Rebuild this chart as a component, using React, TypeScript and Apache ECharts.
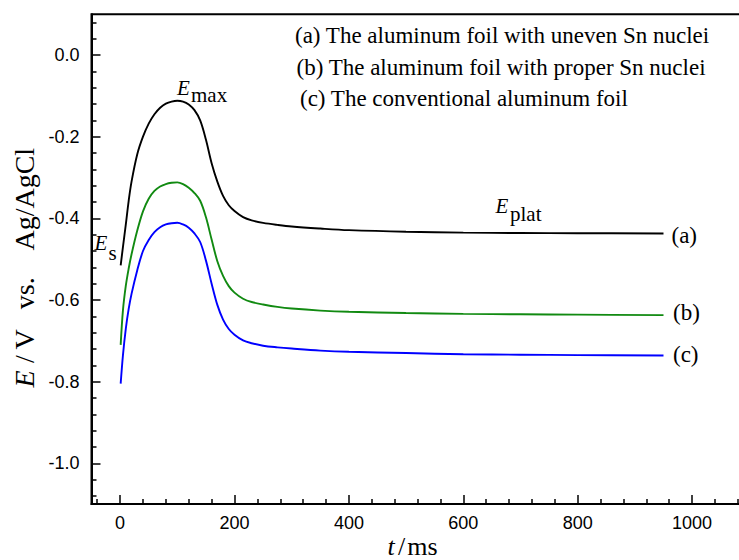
import React, { useEffect, useRef } from "react";
import * as echarts from "echarts";

// Sampling times (ms) shared by the three chronopotentiometric curves
const timeMs = [1, 5, 10, 15, 20, 30, 40, 50, 60, 70, 80, 90, 100, 110, 120, 130, 140, 150, 160, 170, 180, 190, 200, 215, 230, 250, 275, 300, 350, 400, 500, 600, 700, 800, 950];

// (a) aluminum foil with uneven Sn nuclei
const seriesA = [-0.515, -0.47, -0.415, -0.357, -0.31, -0.243, -0.2, -0.168, -0.145, -0.129, -0.119, -0.114, -0.112, -0.114, -0.121, -0.135, -0.16, -0.207, -0.265, -0.31, -0.345, -0.368, -0.382, -0.397, -0.405, -0.411, -0.416, -0.42, -0.425, -0.429, -0.433, -0.435, -0.436, -0.4365, -0.437];
// (b) aluminum foil with proper Sn nuclei
const seriesB = [-0.71, -0.625, -0.565, -0.523, -0.488, -0.43, -0.383, -0.352, -0.333, -0.322, -0.316, -0.313, -0.312, -0.316, -0.325, -0.338, -0.357, -0.397, -0.452, -0.505, -0.541, -0.566, -0.582, -0.597, -0.605, -0.611, -0.617, -0.621, -0.626, -0.629, -0.632, -0.634, -0.635, -0.636, -0.637];
// (c) conventional aluminum foil
const seriesC = [-0.805, -0.735, -0.67, -0.622, -0.585, -0.527, -0.48, -0.453, -0.434, -0.422, -0.415, -0.412, -0.411, -0.415, -0.423, -0.437, -0.458, -0.503, -0.56, -0.612, -0.648, -0.671, -0.685, -0.699, -0.706, -0.712, -0.716, -0.719, -0.724, -0.727, -0.73, -0.733, -0.734, -0.735, -0.736];

const legendLines = [
  "(a) The aluminum foil with uneven Sn nuclei",
  "(b) The aluminum foil with proper Sn nuclei",
  "(c) The conventional aluminum foil",
];
const curveTags = ["(a)", "(b)", "(c)"];

const xMajor = [0, 200, 400, 600, 800, 1000];
const yMajor = [-1.0, -0.8, -0.6, -0.4, -0.2, 0.0];

const X_MIN = -50;
const X_MAX = 1100;
const Y_MIN = -1.1;
const Y_MAX = 0.1;

function minorTicks(major: number[], step: number, lo: number, hi: number): number[] {
  const out: number[] = [];
  const first = Math.ceil((lo + 1e-9) / step);
  const last = Math.floor((hi - 1e-9) / step);
  for (let k = first; k <= last; k++) {
    const v = Math.round(k * step * 1000) / 1000;
    if (!major.some((m) => Math.abs(m - v) < 1e-6)) out.push(v);
  }
  return out;
}

const SERIF = "'Liberation Serif', 'Times New Roman', serif";
const SANS = "'Liberation Sans', Arial, sans-serif";

export default function App() {
  const ref = useRef<HTMLDivElement>(null);

  useEffect(() => {
    if (!ref.current) return;
    const chart = echarts.init(ref.current, undefined, { renderer: "svg" });

    const xMinor = minorTicks(xMajor, 40, X_MIN, X_MAX);
    const yMinor = minorTicks(yMajor, 0.04, Y_MIN, Y_MAX);

    const pairs = (vals: number[]) => timeMs.map((t, i) => [t, vals[i]]);

    const tickStyle = { color: "#000", width: 1.5 };

    const text = (x: number, y: number, s: string, size: number, opts: any = {}) => ({
      type: "text",
      x,
      y,
      rotation: opts.rotation || 0,
      style: {
        text: s,
        fill: "#000",
        font: `${opts.italic ? "italic " : ""}${size}px ${SERIF}`,
        align: opts.align || "left",
        verticalAlign: "middle",
      },
    });

    const graphics: any[] = [];
    // key inside the plot, upper right
    graphics.push(text(295, 35.5, legendLines[0], 23));
    graphics.push(text(296.5, 67.2, legendLines[1], 23));
    graphics.push(text(300, 98.9, legendLines[2], 23));
    // curve tags at the right end of each trace
    graphics.push(text(671.5, 235.5, curveTags[0], 23));
    graphics.push(text(673, 312.5, curveTags[1], 23));
    graphics.push(text(673, 354, curveTags[2], 23));
    // potential markers: E_max, E_s, E_plat
    graphics.push(text(177, 87.9, "E", 21, { italic: true }));
    graphics.push(text(191, 94.6, "max", 21));
    graphics.push(text(94.5, 242.9, "E", 21, { italic: true }));
    graphics.push(text(108.5, 252.9, "s", 21));
    graphics.push(text(495.5, 206.2, "E", 21, { italic: true }));
    graphics.push(text(510, 213.6, "plat", 21));
    // y axis title, rotated
    const rot = Math.PI / 2;
    graphics.push(text(24, 379, "E", 28, { italic: true, rotation: rot, align: "center" }));
    graphics.push(text(24, 359, "/", 28, { rotation: rot, align: "center" }));
    graphics.push(text(24, 339.5, "V", 28, { rotation: rot, align: "center" }));
    graphics.push(text(24, 293.3, "vs.", 28, { rotation: rot, align: "center" }));
    graphics.push(text(24, 199.2, "Ag/AgCl", 28, { rotation: rot, align: "center" }));
    // x axis title
    graphics.push(text(391, 546.5, "t", 26, { italic: true, align: "center" }));
    graphics.push(text(401.5, 546.5, "/", 26, { align: "center" }));
    graphics.push(text(422.5, 546.5, "ms", 26, { align: "center" }));

    const baseX = {
      type: "value",
      min: X_MIN,
      max: X_MAX,
      position: "bottom",
      splitLine: { show: false },
    };
    const baseY = {
      type: "value",
      min: Y_MIN,
      max: Y_MAX,
      position: "left",
      splitLine: { show: false },
    };

    chart.setOption({
      animation: false,
      backgroundColor: "#fff",
      grid: {
        left: 91.5,
        top: 14.2,
        width: 657.8,
        height: 489.9,
        show: true,
        borderColor: "#000",
        borderWidth: 2,
        backgroundColor: "transparent",
      },
      xAxis: [
        {
          ...baseX,
          axisLine: { show: true, onZero: false, lineStyle: { color: "#000", width: 2 } },
          axisTick: { show: true, inside: true, length: 9, lineStyle: tickStyle, customValues: xMajor },
          axisLabel: {
            show: true,
            customValues: xMajor,
            formatter: (v: number) => String(v),
            color: "#000",
            fontSize: 18,
            fontFamily: SANS,
            margin: 10,
          },
        },
        {
          ...baseX,
          axisLine: { show: false, onZero: false },
          axisTick: { show: true, inside: true, length: 5, lineStyle: tickStyle, customValues: xMinor },
          axisLabel: { show: false },
        },
      ],
      yAxis: [
        {
          ...baseY,
          axisLine: { show: true, onZero: false, lineStyle: { color: "#000", width: 2 } },
          axisTick: { show: true, inside: true, length: 9, lineStyle: tickStyle, customValues: yMajor },
          axisLabel: {
            show: true,
            customValues: yMajor,
            formatter: (v: number) => v.toFixed(1),
            color: "#000",
            fontSize: 18,
            fontFamily: SANS,
            margin: 12,
          },
        },
        {
          ...baseY,
          axisLine: { show: false, onZero: false },
          axisTick: { show: true, inside: true, length: 5, lineStyle: tickStyle, customValues: yMinor },
          axisLabel: { show: false },
        },
      ],
      series: [
        { name: curveTags[0], data: pairs(seriesA), color: "#000000" },
        { name: curveTags[1], data: pairs(seriesB), color: "#118a11" },
        { name: curveTags[2], data: pairs(seriesC), color: "#0000ff" },
      ].map((s) => ({
        type: "line",
        name: s.name,
        data: s.data,
        xAxisIndex: 0,
        yAxisIndex: 0,
        smooth: 0.35,
        showSymbol: false,
        lineStyle: { color: s.color, width: 1.9 },
        itemStyle: { color: s.color },
      })),
      graphic: graphics,
    });

    return () => chart.dispose();
  }, []);

  return (
    <div
      style={{
        position: "fixed",
        left: 0,
        top: 0,
        width: 739,
        height: 560,
        overflow: "hidden",
        background: "#fff",
      }}
    >
      <div ref={ref} style={{ width: 790, height: 560 }} />
    </div>
  );
}
